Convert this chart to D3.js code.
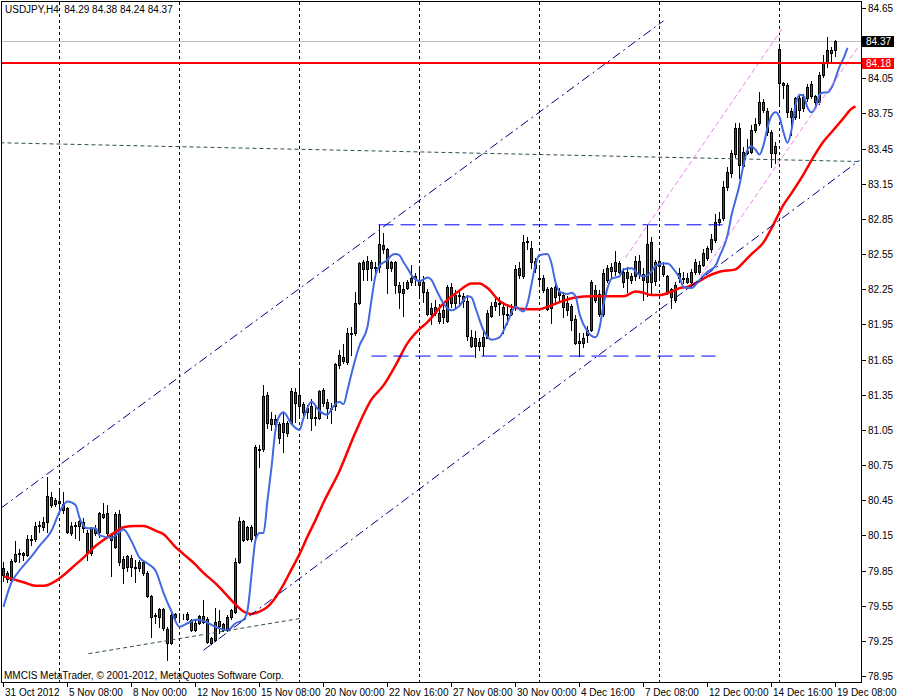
<!DOCTYPE html>
<html><head><meta charset="utf-8">
<script src="https://cdn.jsdelivr.net/npm/d3@7"></script>
<style>
html,body{margin:0;padding:0;background:#fff;}
svg{display:block;font-family:"Liberation Sans",Arial,sans-serif;}
</style></head><body>
<svg id="c" width="900" height="700"></svg>
<script>
const title = "USDJPY,H4  84.29 84.38 84.24 84.37";
const copyright = "MMCIS MetaTrader, \u00A9 2001-2012, MetaQuotes Software Corp.";

const opens = [79.87,79.83,79.77,79.93,79.99,80.00,79.98,80.12,80.12,80.23,80.22,80.26,80.48,80.42,80.43,80.42,80.38,80.17,80.23,80.23,
80.26,80.17,80.00,80.21,80.18,80.33,80.34,80.15,80.05,80.33,79.95,79.88,79.96,79.88,79.87,79.92,79.83,79.63,79.47,79.45,
79.52,79.35,79.23,79.45,79.47,79.46,79.48,79.43,79.40,79.40,79.46,79.44,79.23,79.26,79.42,79.39,79.35,79.45,79.50,79.92,
80.27,80.22,80.12,80.15,80.89,80.89,81.35,81.14,81.10,81.10,81.11,81.02,81.11,81.37,81.35,81.27,81.20,81.25,81.15,81.15,
81.39,81.29,81.24,81.25,81.60,81.67,81.63,81.88,81.88,82.13,82.48,82.42,82.48,82.44,82.44,82.63,82.59,82.43,82.48,82.29,
82.22,82.26,82.31,82.36,82.32,82.31,82.23,82.04,82.10,82.05,82.07,81.98,82.27,82.13,82.20,82.19,82.15,81.84,81.77,81.80,
81.77,81.83,82.02,82.11,82.13,82.10,82.04,82.04,82.09,82.43,82.36,82.65,82.60,82.49,82.35,82.35,82.25,82.09,82.18,82.23,
82.20,82.13,82.11,82.00,81.81,81.79,81.86,81.90,82.16,82.21,82.04,82.33,82.41,82.48,82.40,82.31,82.40,82.33,82.36,82.49,
82.38,82.31,82.65,82.32,82.49,82.45,82.36,82.25,82.16,82.39,82.35,82.35,82.31,82.40,82.40,82.46,82.52,82.59,82.67,82.82,
82.86,83.12,83.24,83.40,83.63,83.30,83.41,83.42,83.61,83.67,83.85,83.77,83.59,83.41,84.30,84.01,83.99,83.77,83.72,83.88,
83.80,83.88,84.00,83.90,83.85,84.08,84.18,84.29,84.29];
const highs = [79.92,79.85,79.95,80.10,80.03,80.01,80.15,80.15,80.26,80.27,80.31,80.65,80.52,80.47,80.54,80.52,80.39,80.26,80.26,80.28,
80.30,80.20,80.22,80.24,80.35,80.43,80.41,80.17,80.35,80.37,79.97,79.98,79.98,79.94,79.94,79.94,79.85,79.64,79.49,79.53,
79.53,79.37,79.49,79.49,79.49,79.48,79.50,79.44,79.44,79.47,79.60,79.45,79.28,79.53,79.51,79.40,79.47,79.52,79.96,80.31,
80.28,80.23,80.24,80.92,80.92,81.43,81.37,81.20,81.18,81.12,81.20,81.13,81.41,81.41,81.58,81.29,81.26,81.31,81.25,81.39,
81.41,81.31,81.28,81.62,81.73,81.78,81.92,81.93,82.23,82.48,82.50,82.53,82.50,82.48,82.80,82.73,82.60,82.49,82.49,82.31,
82.31,82.33,82.46,82.39,82.43,82.36,82.25,82.13,82.16,82.12,82.13,82.29,82.30,82.24,82.23,82.22,82.20,81.90,81.89,81.83,
81.90,82.07,82.14,82.18,82.18,82.14,82.12,82.12,82.46,82.48,82.71,82.70,82.66,82.52,82.46,82.37,82.27,82.27,82.30,82.26,
82.23,82.19,82.12,82.03,81.88,81.88,81.94,82.33,82.29,82.24,82.42,82.46,82.47,82.58,82.49,82.43,82.44,82.39,82.53,82.54,
82.43,82.80,82.70,82.50,82.59,82.48,82.37,82.26,82.31,82.43,82.40,82.39,82.42,82.51,82.49,82.59,82.62,82.72,82.89,82.91,
83.17,83.29,83.44,83.67,83.67,83.46,83.53,83.65,83.71,83.93,83.87,83.80,83.61,83.51,84.32,84.02,84.01,83.80,83.89,83.90,
83.92,84.00,84.03,83.91,84.10,84.25,84.40,84.32,84.38];
const lows = [79.76,79.75,79.76,79.92,79.92,79.94,79.97,80.07,80.10,80.18,80.20,80.18,80.39,80.40,80.37,80.34,80.17,80.15,80.13,80.11,
80.18,79.94,79.98,80.15,80.14,80.30,80.15,79.80,80.04,79.90,79.74,79.85,79.80,79.75,79.85,79.81,79.62,79.28,79.40,79.37,
79.34,79.09,79.22,79.44,79.44,79.44,79.43,79.33,79.33,79.39,79.40,79.23,79.22,79.25,79.32,79.33,79.33,79.44,79.49,79.91,
80.10,80.11,80.10,80.14,80.73,80.87,81.07,81.05,81.08,80.94,80.86,81.00,81.10,81.12,81.15,81.17,81.15,81.05,81.09,81.14,
81.25,81.15,81.11,81.22,81.58,81.62,81.61,81.69,81.86,82.12,82.33,82.33,82.33,82.40,82.40,82.56,82.22,82.41,82.22,82.09,
82.02,82.25,82.29,82.29,82.18,82.14,82.03,81.95,82.03,81.96,81.96,81.97,82.10,82.10,82.12,82.10,81.82,81.76,81.67,81.73,
81.69,81.83,82.01,82.07,82.03,81.88,81.95,82.03,82.07,82.35,82.35,82.59,82.43,82.40,82.29,82.23,82.07,81.96,82.14,82.16,
82.01,82.03,81.90,81.78,81.68,81.76,81.80,81.89,82.14,82.02,82.02,82.31,82.35,82.37,82.39,82.27,82.23,82.30,82.33,82.35,
82.16,82.19,82.20,82.29,82.35,82.36,82.21,82.09,82.14,82.31,82.30,82.30,82.26,82.38,82.38,82.45,82.50,82.57,82.65,82.80,
82.84,83.10,83.21,83.38,83.20,83.29,83.40,83.41,83.59,83.65,83.76,83.57,83.29,83.33,83.81,83.88,83.72,83.57,83.70,83.71,
83.77,83.86,83.88,83.81,83.83,84.06,84.15,84.20,84.24];
const closes = [79.81,79.78,79.93,79.99,80.00,79.98,80.12,80.11,80.23,80.24,80.26,80.49,80.41,80.45,80.44,80.37,80.18,80.23,80.24,80.27,
80.21,80.00,80.21,80.17,80.34,80.31,80.17,80.11,80.33,79.92,79.87,79.97,79.88,79.87,79.92,79.83,79.63,79.45,79.46,79.52,
79.36,79.23,79.47,79.48,79.47,79.46,79.44,79.34,79.34,79.46,79.41,79.24,79.27,79.41,79.38,79.34,79.45,79.51,79.92,80.27,
80.11,80.12,80.22,80.90,80.88,81.34,81.11,81.10,81.14,80.98,81.03,81.11,81.38,81.28,81.25,81.20,81.24,81.15,81.16,81.38,
81.28,81.24,81.23,81.61,81.69,81.64,81.88,81.87,82.13,82.47,82.42,82.49,82.43,82.43,82.64,82.59,82.43,82.48,82.29,82.23,
82.25,82.31,82.35,82.35,82.29,82.23,82.04,82.09,82.05,81.98,82.01,82.27,82.13,82.20,82.19,82.15,81.85,81.77,81.83,81.77,
81.84,82.05,82.11,82.14,82.12,82.04,82.03,82.08,82.42,82.37,82.65,82.66,82.48,82.43,82.34,82.24,82.08,82.26,82.27,82.20,
82.10,82.07,81.99,81.79,81.79,81.83,81.90,82.31,82.24,82.04,82.39,82.43,82.44,82.41,82.47,82.40,82.35,82.36,82.49,82.38,
82.33,82.64,82.31,82.48,82.45,82.38,82.23,82.18,82.29,82.35,82.34,82.31,82.40,82.48,82.46,82.56,82.60,82.68,82.82,82.85,
83.12,83.25,83.41,83.63,83.31,83.42,83.43,83.61,83.66,83.85,83.78,83.59,83.41,83.47,84.01,83.99,83.76,83.72,83.88,83.78,
83.89,83.98,83.90,83.85,84.08,84.18,84.29,84.27,84.37];

const timeLabels = ["31 Oct 2012","5 Nov 08:00","8 Nov 00:00","12 Nov 16:00","15 Nov 08:00","20 Nov 00:00","22 Nov 16:00",
  "27 Nov 08:00","30 Nov 00:00","4 Dec 16:00","7 Dec 08:00","12 Dec 00:00","14 Dec 16:00","19 Dec 08:00"];
const timeLabelBars = [0,16,32,48,64,80,96,112,128,144,160,176,192,208];
const gridBars = [14,44,74,104,134,164,194];
const priceTicks = [84.65,84.35,84.05,83.75,83.45,83.15,82.85,82.55,82.25,81.95,81.65,81.35,81.05,80.75,80.45,80.15,79.85,79.55,79.25,78.95];
const hiddenTickLabels = [84.35]; // covered by the bid price box in the original

const fastMABars = [0,2,4,7,9,12,14,16,18,19,21,23,24,27,30,32,34,36,38,40,42,44,46,48,50,53,56,58,60,61,62,63,64,65,66,67,68,69,70,72,74,75,77,79,81,82,84,85,86,87,89,91,92,93,94,96,97,98,99,100,101,102,104,106,107,108,110,112,114,116,117,118,120,122,124,126,128,130,131,132,133,134,136,137,138,139,141,142,143,144,146,148,149,150,151,152,154,155,157,159,160,162,163,165,166,168,169,170,172,174,176,178,179,181,182,184,185,186,187,188,189,190,191,192,193,194,195,196,197,198,199,200,201,202,203,204,205,206,207,208,209,210,211];
const fastMAVals = [79.54,79.75,79.85,79.97,80.06,80.19,80.35,80.44,80.41,80.30,80.21,80.21,80.15,80.13,80.20,80.10,79.96,79.91,79.85,79.66,79.50,79.37,79.40,79.43,79.42,79.37,79.34,79.40,79.43,79.51,79.81,80.11,80.17,80.17,80.45,80.73,81.05,81.17,81.20,81.10,81.05,81.15,81.29,81.21,81.18,81.23,81.29,81.27,81.39,81.53,81.77,81.93,82.16,82.37,82.45,82.50,82.54,82.55,82.54,82.48,82.43,82.37,82.32,82.35,82.33,82.26,82.13,82.07,82.11,82.19,82.18,82.09,81.90,81.82,81.84,81.97,82.10,82.06,82.13,82.29,82.46,82.54,82.55,82.47,82.31,82.23,82.21,82.22,82.19,82.04,81.89,81.84,81.92,82.12,82.26,82.34,82.36,82.42,82.43,82.37,82.36,82.40,82.45,82.47,82.47,82.40,82.35,82.27,82.26,82.33,82.40,82.45,82.53,82.71,82.88,83.14,83.31,83.44,83.47,83.44,83.40,83.48,83.63,83.73,83.76,83.72,83.59,83.50,83.61,83.82,83.91,83.90,83.80,83.76,83.80,83.91,83.93,83.93,83.97,84.05,84.15,84.22,84.31];

const slowMABars = [0,3,5,8,10,13,15,18,20,23,25,28,30,33,35,38,40,43,45,48,50,53,55,58,60,62,64,66,68,70,72,74,76,78,80,84,88,92,95,98,101,104,106,110,114,117,119,121,124,127,131,134,136,139,143,147,151,155,158,160,162,164,167,169,171,174,176,179,183,185,187,190,192,195,197,200,202,205,207,210,212,213];
const slowMAVals = [79.80,79.77,79.75,79.72,79.72,79.76,79.81,79.90,79.96,80.06,80.11,80.18,80.22,80.23,80.23,80.19,80.16,80.05,79.99,79.90,79.83,79.74,79.67,79.56,79.50,79.48,79.50,79.54,79.62,79.73,79.86,79.99,80.14,80.28,80.43,80.70,81.03,81.31,81.43,81.60,81.79,81.91,81.97,82.13,82.24,82.30,82.30,82.26,82.15,82.10,82.08,82.08,82.10,82.14,82.18,82.19,82.19,82.19,82.23,82.22,82.20,82.20,82.23,82.26,82.27,82.32,82.36,82.40,82.42,82.48,82.55,82.65,82.77,82.97,83.07,83.23,83.35,83.51,83.59,83.71,83.79,83.81];

// drawn objects: [barIndex, price] end points
const channelUpper = [[-0.75, 80.38],[165, 84.54]];
const channelLower = [[50, 79.17],[214, 83.35]];
const slateTop = [[-0.75, 83.50],[214, 83.34]];
const slateBottom = [[21.25, 79.14],[74, 79.44]];
const rangeHigh = [[93.75, 82.80],[179.75, 82.80]];
const rangeLow = [[92, 81.68],[178, 81.68]];
const pinkA = [[155.5, 82.52],[195, 84.49]];
const pinkB = [[174.25, 82.36],[213.5, 84.31]];
const bidLevel = 84.37;
const alertLevel = 84.18;

const svg = d3.select("#c");
const x = d3.scaleLinear().domain([0, 208]).range([3.5, 835.5]);
const y = d3.scaleLinear().domain([78.95, 84.65]).range([676, 8]);
const L = 1.5, T = 1.5, R = 861.5, B = 682.5;

svg.append("defs").append("clipPath").attr("id","clip")
  .append("rect").attr("x",2).attr("y",2).attr("width",859).attr("height",680);
const plot = svg.append("g").attr("clip-path","url(#clip)");

// vertical dashed grid
plot.selectAll("line.grid").data(gridBars).join("line").attr("class","grid")
  .attr("x1", d => Math.floor(x(d)) + 0.5).attr("x2", d => Math.floor(x(d)) + 0.5)
  .attr("y1", 2).attr("y2", 682)
  .attr("stroke","#000").attr("stroke-width",1).attr("stroke-dasharray","3,3");

// bid line
plot.append("line").attr("x1",2).attr("x2",861).attr("y1",Math.round(y(bidLevel))+0.5).attr("y2",Math.round(y(bidLevel))+0.5)
  .attr("stroke","#c0c0c0").attr("stroke-width",1);

// candles
const bars = d3.range(closes.length).map(i => ({i, o:opens[i], h:highs[i], l:lows[i], c:closes[i]}));
const cg = plot.append("g");
cg.selectAll("line.wick").data(bars).join("line").attr("class","wick")
  .attr("x1", d => Math.floor(x(d.i)) + 0.5).attr("x2", d => Math.floor(x(d.i)) + 0.5)
  .attr("y1", d => Math.round(y(d.h))).attr("y2", d => Math.round(y(d.l)) + 1)
  .attr("stroke","#000").attr("stroke-width",1);
cg.selectAll("rect.body").data(bars).join("rect").attr("class","body")
  .attr("x", d => Math.floor(x(d.i)) - 0.5)
  .attr("y", d => Math.min(Math.round(y(d.o)), Math.round(y(d.c))) + 0.5)
  .attr("width", 2)
  .attr("height", d => Math.max(Math.abs(Math.round(y(d.o)) - Math.round(y(d.c))), 0))
  .attr("fill", d => d.c >= d.o ? "#008000" : "#ff0000")
  .attr("stroke","#000").attr("stroke-width",1);

// moving averages
const lineGen = d3.line().x(d => x(d[0])).y(d => y(d[1])).curve(d3.curveMonotoneX);
plot.append("path").datum(slowMABars.map((b,k)=>[b, slowMAVals[k]])).attr("d", lineGen)
  .attr("fill","none").attr("stroke","#ff0000").attr("stroke-width",2.5);
plot.append("path").datum(fastMABars.map((b,k)=>[b, fastMAVals[k]])).attr("d", lineGen)
  .attr("fill","none").attr("stroke","#4169e1").attr("stroke-width",2);

// objects
function seg(pts, color, dash, w) {
  plot.append("line")
    .attr("x1", x(pts[0][0])).attr("y1", y(pts[0][1]))
    .attr("x2", x(pts[1][0])).attr("y2", y(pts[1][1]))
    .attr("stroke", color).attr("stroke-width", w || 1).attr("stroke-dasharray", dash);
}
seg(channelUpper, "#000080", "9,4,2,4");
seg(channelLower, "#000080", "9,4,2,4");
seg(slateTop, "#2f4f4f", "4,3");
seg(slateBottom, "#2f4f4f", "4,3");
seg(rangeHigh, "#0000ff", "15,7");
seg(rangeLow, "#0000ff", "15,7");
seg(pinkA, "#ee82ee", "5,3");
seg(pinkB, "#ee82ee", "5,3");

// alert level
plot.append("line").attr("x1",2).attr("x2",861).attr("y1",y(alertLevel)).attr("y2",y(alertLevel))
  .attr("stroke","#ff0000").attr("stroke-width",2);

// frame
svg.append("rect").attr("x",L).attr("y",T).attr("width",R-L).attr("height",B-T)
  .attr("fill","none").attr("stroke","#000").attr("stroke-width",1);

// right axis
const ax = svg.append("g");
ax.selectAll("line.yt").data(priceTicks).join("line").attr("class","yt")
  .attr("x1",862).attr("x2",866).attr("y1", d => Math.round(y(d))+0.5).attr("y2", d => Math.round(y(d))+0.5)
  .attr("stroke","#000");
ax.selectAll("text.yl").data(priceTicks.filter(d => !hiddenTickLabels.includes(d))).join("text").attr("class","yl")
  .attr("x",868).attr("y", d => Math.round(y(d)) + 4)
  .attr("font-size","10px").attr("fill","#000").text(d => d.toFixed(2));

// bottom axis
ax.selectAll("line.xt").data(timeLabelBars).join("line").attr("class","xt")
  .attr("x1", d => Math.floor(x(d))+0.5).attr("x2", d => Math.floor(x(d))+0.5)
  .attr("y1",683).attr("y2",687).attr("stroke","#000");
ax.selectAll("text.xl").data(timeLabels).join("text").attr("class","xl")
  .attr("x", (d,k) => Math.floor(x(timeLabelBars[k])) + 2).attr("y",696)
  .attr("font-size","10px").attr("fill","#000").text(d => d);

// price boxes
function priceBox(v, bg) {
  const yy = Math.round(y(v));
  ax.append("rect").attr("x",862).attr("y",yy-5).attr("width",32).attr("height",11).attr("fill",bg);
  ax.append("text").attr("x",866).attr("y",yy+4).attr("font-size","10px").attr("fill","#fff").text(v.toFixed(2));
}
priceBox(bidLevel, "#000");
priceBox(alertLevel, "#ff0000");

// title & copyright
svg.append("text").attr("x",5).attr("y",13).attr("font-size","10px").attr("fill","#000")
  .attr("xml:space","preserve").style("white-space","pre").text(title);
svg.append("text").attr("x",4).attr("y",679).attr("font-size","10px").attr("fill","#000").text(copyright);
</script>
</body></html>
